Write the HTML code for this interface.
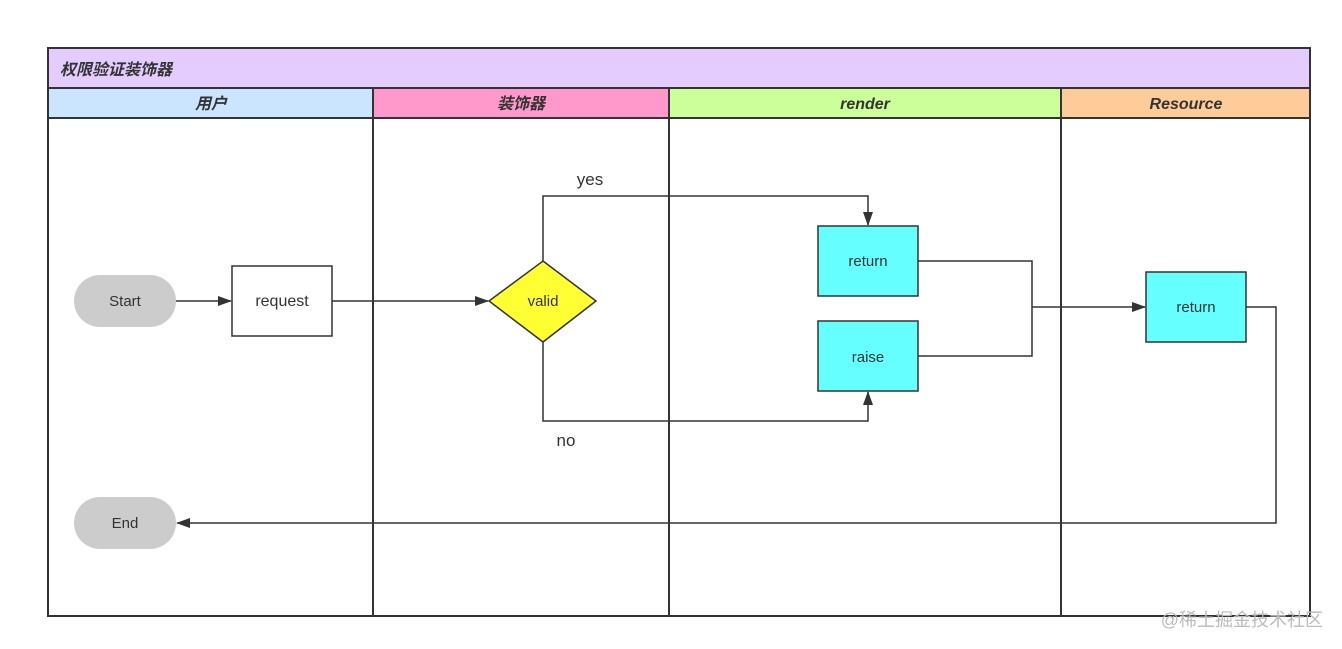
<!DOCTYPE html>
<html><head><meta charset="utf-8"><style>
html,body{margin:0;padding:0;background:#fff;width:1342px;height:649px;overflow:hidden}
svg text{font-family:"Liberation Sans","Noto Sans CJK SC",sans-serif}
</style></head><body>
<svg width="1342" height="649" viewBox="0 0 1342 649" xmlns="http://www.w3.org/2000/svg">
<defs><marker id="a" markerWidth="14" markerHeight="10" refX="13" refY="5" orient="auto" markerUnits="userSpaceOnUse"><path d="M0,0 L14,5 L0,10 Z" fill="#333"/></marker></defs>
<rect x="48" y="48" width="1262" height="40" fill="#e5ccff"/>
<rect x="48" y="88" width="325" height="30" fill="#cce5ff"/>
<rect x="373" y="88" width="296" height="30" fill="#ff99cc"/>
<rect x="669" y="88" width="392" height="30" fill="#ccff99"/>
<rect x="1061" y="88" width="249" height="30" fill="#ffcc99"/>
<g stroke="#333" stroke-width="2" fill="none">
<rect x="48" y="48" width="1262" height="568"/>
<line x1="48" y1="88" x2="1310" y2="88"/>
<line x1="48" y1="118" x2="1310" y2="118"/>
<line x1="373" y1="88" x2="373" y2="616"/>
<line x1="669" y1="88" x2="669" y2="616"/>
<line x1="1061" y1="88" x2="1061" y2="616"/>
</g>
<g font-style="italic" font-weight="bold" font-size="16" fill="#333">
<text x="60" y="75">权限验证装饰器</text>
<text x="211" y="109" text-anchor="middle">用户</text>
<text x="521" y="109" text-anchor="middle">装饰器</text>
<text x="865" y="109" text-anchor="middle">render</text>
<text x="1186" y="109" text-anchor="middle">Resource</text>
</g>
<rect x="74" y="275" width="102" height="52" rx="26" fill="#ccc"/>
<rect x="74" y="497" width="102" height="52" rx="26" fill="#ccc"/>
<g stroke="#333" stroke-width="1.5">
<rect x="232" y="266" width="100" height="70" fill="#fff"/>
<polygon points="543,261 596,301 543,342 489,301" fill="#ffff33"/>
<rect x="818" y="226" width="100" height="70" fill="#66ffff"/>
<rect x="818" y="321" width="100" height="70" fill="#66ffff"/>
<rect x="1146" y="272" width="100" height="70" fill="#66ffff"/>
</g>
<g stroke="#333" stroke-width="1.5" fill="none" marker-end="url(#a)">
<line x1="176" y1="301" x2="231" y2="301"/>
<line x1="332" y1="301" x2="488" y2="301"/>
<polyline points="543,261 543,196 868,196 868,225"/>
<polyline points="543,342 543,421 868,421 868,392"/>
<polyline points="1032,307 1145,307"/>
<polyline points="1246,307 1276,307 1276,523 177,523"/>
</g>
<g stroke="#333" stroke-width="1.5" fill="none">
<polyline points="918,261 1032,261 1032,356 918,356"/>
</g>
<g font-size="15" fill="#333" text-anchor="middle">
<text x="125" y="306">Start</text>
<text x="125" y="528">End</text>
<text x="282" y="306" font-size="16">request</text>
<text x="543" y="306">valid</text>
<text x="868" y="266">return</text>
<text x="868" y="362">raise</text>
<text x="1196" y="312">return</text>
<text x="590" y="185" font-size="17">yes</text>
<text x="566" y="446" font-size="17">no</text>
</g>
<text x="1323" y="626" font-size="18" fill="#bbb" text-anchor="end" font-family="'Liberation Sans','Noto Sans CJK SC',sans-serif">@稀土掘金技术社区</text>
</svg>
</body></html>
